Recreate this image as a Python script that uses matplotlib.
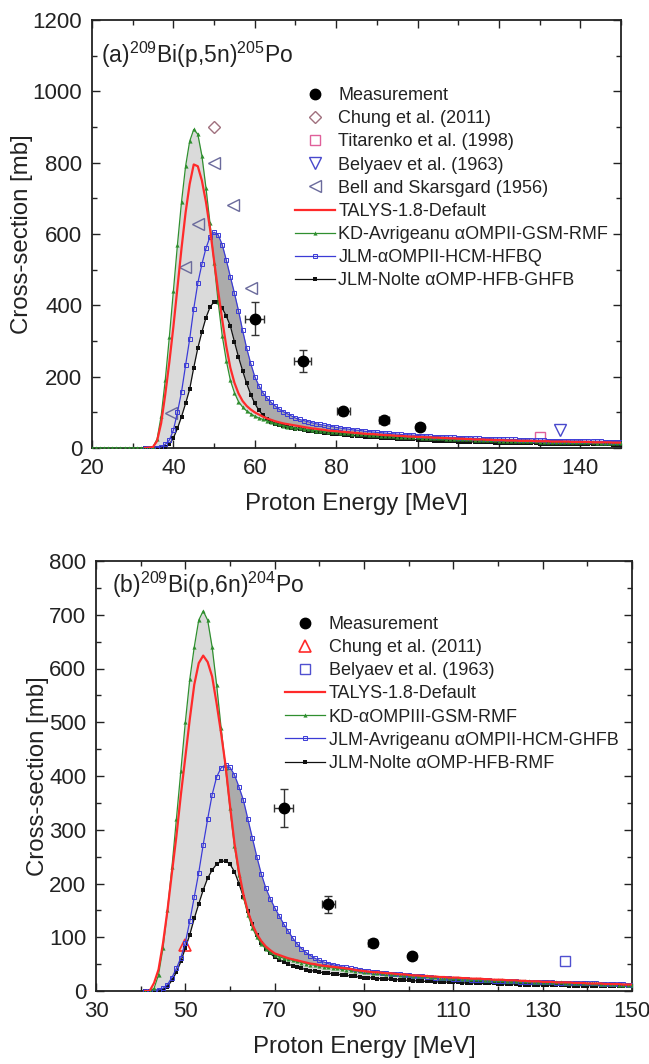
import numpy as np
import matplotlib
matplotlib.use("Agg")
import matplotlib.pyplot as plt
from matplotlib.ticker import MultipleLocator

plt.rcParams['font.family'] = ['Liberation Sans', 'DejaVu Sans']
plt.rcParams['mathtext.default'] = 'regular'

# ---------------- Panel (a): 209Bi(p,5n)205Po ----------------
E_green_a = list(range(20, 151))
E_model_a = list(range(33, 151))

green_a = ([0] * 15 +
           [3, 25, 90, 190, 310, 440, 570, 690, 790, 860, 893, 880, 820, 730, 630, 520,
            410, 315, 245, 190, 155, 130, 115, 104, 96, 89, 84, 80, 76, 72, 69, 66, 63, 60, 58, 56,
            55, 53, 52, 50, 49, 48, 47, 46, 45, 44, 43, 42, 41, 40, 39, 39, 38, 37, 36, 36,
            35, 34, 34, 33, 32, 32, 31, 31, 30, 30, 29, 29, 28, 28, 27, 27, 26, 26, 25, 25,
            25, 24, 24, 23, 23, 23, 22, 22, 22, 21, 21, 21, 20, 20, 20, 19, 19, 19, 19, 18,
            18, 18, 18, 17, 17, 17, 17, 17, 16, 16, 16, 16, 16, 15, 15, 15, 15, 15, 14, 14])

red_a = [0, 1, 3, 20, 70, 150, 240, 340, 450, 560, 660, 740, 795, 790, 750, 690, 615, 525,
         440, 360, 285, 225, 183, 153, 132, 118, 108, 100, 94, 88, 83, 79, 75, 72, 69, 67, 65, 63,
         61, 59, 57, 55, 54, 52, 51, 49, 48, 47, 46, 45, 44, 43, 42, 41, 40, 39, 39, 38,
         37, 36, 36, 35, 34, 34, 33, 32, 32, 31, 31, 30, 30, 29, 29, 28, 28, 27, 27, 26,
         26, 25, 25, 24, 24, 24, 23, 23, 22, 22, 22, 21, 21, 21, 20, 20, 20, 20, 19, 19,
         19, 19, 18, 18, 18, 18, 18, 17, 17, 17, 17, 17, 16, 16, 16, 16, 16, 15, 15, 15]

blue_a = [0, 0, 0, 0, 3, 10, 22, 50, 100, 157, 232, 305, 390, 462, 515, 560, 592, 605,
          598, 570, 527, 480, 434, 385, 330, 280, 237, 200, 175, 155, 140, 128, 118, 109, 102, 96, 90, 84,
          80, 77, 74, 71, 68, 66, 64, 62, 60, 58, 56, 54, 53, 51, 50, 49, 47, 46, 45, 44,
          43, 42, 41, 40, 39, 38, 37, 37, 36, 35, 34, 34, 33, 32, 32, 31, 31, 30, 30, 29,
          29, 28, 28, 27, 27, 26, 26, 26, 25, 25, 25, 24, 24, 24, 23, 23, 23, 22, 22, 22,
          22, 21, 21, 21, 21, 20, 20, 20, 20, 20, 19, 19, 19, 19, 19, 18, 18, 18, 18, 18]

black_a = [0, 0, 0, 0, 0, 2, 10, 28, 55, 88, 125, 165, 225, 280, 325, 365, 395, 410,
           408, 392, 370, 342, 298, 255, 217, 181, 150, 125, 106, 92, 82, 74, 68, 64, 61, 58, 56, 54,
           52, 50, 48, 47, 45, 44, 43, 41, 40, 39, 38, 37, 36, 35, 34, 33, 32, 31, 31, 30,
           29, 28, 28, 27, 26, 26, 25, 24, 24, 23, 23, 22, 22, 21, 21, 20, 20, 19, 19, 18,
           18, 18, 17, 17, 17, 16, 16, 16, 15, 15, 15, 14, 14, 14, 14, 13, 13, 13, 13, 12,
           12, 12, 12, 12, 11, 11, 11, 11, 11, 11, 10, 10, 10, 10, 10, 10, 10, 9, 9, 9]

meas_a_E = [60, 71.8, 81.8, 91.8, 100.5]
meas_a_y = [362, 243, 103, 79, 58]
meas_a_xerr = [2.3, 2.1, 1.6, 1.2, 1.0]
meas_a_yerr = [46, 31, 10, 6, 5]

chung_a_E, chung_a_y = [50], [900]
titarenko_a_E, titarenko_a_y = [130], [32]
belyaev_a_E, belyaev_a_y = [135], [50]
bell_a_E = [39.3, 42.8, 46.0, 50.0, 54.6, 59.1]
bell_a_y = [97, 508, 629, 800, 680, 449]

# ---------------- Panel (b): 209Bi(p,6n)204Po ----------------
E_model_b = list(range(41, 151))

red_b = [0, 0, 15, 40, 89, 150, 220, 288, 365, 435, 506, 570, 610, 624, 612, 585, 535, 480,
         420, 345, 275, 222, 180, 148, 124, 106, 93, 83, 76, 70,
         67, 64, 61, 59, 57, 55, 53, 51, 50, 48, 47, 46, 45, 44, 43, 42, 41, 39, 38, 37,
         36, 35, 35, 34, 33, 33, 32, 31, 31, 30, 29, 29, 28, 28, 27, 27, 26, 26, 25, 25,
         25, 24, 24, 23, 23, 23, 22, 22, 21, 21, 21, 20, 20, 20, 19, 19, 18, 18, 18, 17,
         17, 17, 16, 16, 16, 16, 15, 15, 15, 14, 14, 14, 14, 13, 13, 13, 13, 12, 12, 12]

green_b = [0, 0, 5, 30, 80, 150, 230, 320, 410, 500, 580, 640, 690, 707, 690, 640, 570, 490,
           415, 340, 270, 215, 175, 142, 118, 100, 88, 79, 72, 67,
           64, 61, 59, 57, 55, 53, 51, 49, 48, 46, 45, 44, 43, 42, 41, 40, 39, 38, 37, 36,
           35, 34, 34, 33, 32, 32, 31, 30, 30, 29, 28, 28, 27, 27, 26, 26, 25, 25, 24, 24,
           24, 23, 23, 22, 22, 22, 21, 21, 20, 20, 20, 19, 19, 19, 18, 18, 18, 17, 17, 17,
           16, 16, 16, 16, 15, 15, 15, 15, 14, 14, 14, 14, 13, 13, 13, 13, 12, 12, 12, 12]

blue_b = [0, 0, 0, 2, 5, 12, 25, 42, 62, 90, 130, 175, 220, 272, 320, 365, 398, 415,
          421, 416, 402, 380, 355, 320, 285, 250, 218, 192, 172, 155,
          140, 125, 112, 99, 88, 79, 72, 66, 61, 57, 54, 51, 49, 47, 45, 44, 42, 41, 40, 38,
          37, 36, 35, 34, 33, 32, 31, 31, 30, 29, 28, 28, 27, 26, 26, 25, 25, 24, 24, 23,
          23, 22, 22, 21, 21, 21, 20, 20, 19, 19, 19, 18, 18, 18, 17, 17, 17, 17, 16, 16,
          16, 16, 15, 15, 15, 15, 15, 14, 14, 14, 14, 14, 13, 13, 13, 13, 13, 13, 12, 12]

black_b = [0, 0, 0, 0, 2, 8, 20, 35, 55, 80, 105, 135, 162, 188, 210, 225, 236, 241,
           242, 236, 222, 200, 175, 148, 124, 104, 90, 78, 70, 63,
           58, 54, 50, 47, 45, 42, 40, 38, 37, 35, 34, 33, 32, 31, 30, 29, 28, 27, 26, 25,
           25, 24, 23, 23, 22, 22, 21, 21, 20, 20, 19, 19, 18, 18, 18, 17, 17, 17, 16, 16,
           16, 15, 15, 15, 15, 14, 14, 14, 14, 13, 13, 13, 13, 13, 12, 12, 12, 12, 12, 11,
           11, 11, 11, 11, 11, 10, 10, 10, 10, 10, 10, 10, 10, 9, 9, 9, 9, 9, 9, 9]

meas_b_E = [72.0, 82.0, 92.0, 100.8]
meas_b_y = [341, 161, 90, 66]
meas_b_xerr = [2.1, 1.5, 1.0, 0.8]
meas_b_yerr = [35, 16, 6, 5]

chung_b_E, chung_b_y = [50], [86]
belyaev_b_E, belyaev_b_y = [135], [55]

# ---------------- styling ----------------
C_RED = '#ff2a2a'
C_GREEN = '#2f8f2f'
C_BLUE = '#3b3bd6'
C_BLACK = '#111111'
TXT = '#222222'
FILL_LIGHT = '#dadada'
FILL_DARK = '#ababab'

fig = plt.figure(figsize=(6.49, 10.64), dpi=100)
ax_a = fig.add_axes([92 / 649, 1 - 448 / 1064, (621 - 92) / 649, (448 - 20) / 1064])
ax_b = fig.add_axes([96 / 649, 1 - 991 / 1064, (632 - 96) / 649, (991 - 561) / 1064])


def style_axes(ax, xmaj, xoff, xmin, ymaj, ymin):
    ax.xaxis.set_major_locator(MultipleLocator(xmaj, offset=xoff))
    ax.xaxis.set_minor_locator(MultipleLocator(xmin))
    ax.yaxis.set_major_locator(MultipleLocator(ymaj))
    ax.yaxis.set_minor_locator(MultipleLocator(ymin))
    ax.tick_params(which='both', direction='in', top=True, right=True, colors=TXT,
                   labelsize=16, width=1.0)
    ax.tick_params(which='major', length=6, pad=7)
    ax.tick_params(which='minor', length=3.5)
    for s in ax.spines.values():
        s.set_linewidth(1.3)
        s.set_color(TXT)
    ax.set_ylabel('Cross-section [mb]', fontsize=17.3, color=TXT, labelpad=0)
    ax.set_xlabel('Proton Energy [MeV]', fontsize=17.3, color=TXT, labelpad=10)


def draw_models(ax, E, green, red, blue, black, Eg, green_full, labels):
    g = np.array(green, float)
    b = np.array(blue, float)
    k = np.array(black, float)
    ax.fill_between(E, g, b, color=FILL_LIGHT, lw=0, zorder=1)
    ax.fill_between(E, b, k, color=FILL_LIGHT, lw=0, zorder=1)
    low = np.maximum(g, k)
    ax.fill_between(E, low, b, where=b > low, interpolate=True, color=FILL_DARK,
                    lw=0, zorder=1.5)
    ax.plot(E, black, color=C_BLACK, lw=0.9, marker='s', ms=2.4, mew=0, zorder=3,
            label=labels[3])
    ax.plot(E, blue, color=C_BLUE, lw=0.9, marker='s', ms=3.0, mfc='none', mew=0.7,
            zorder=3, label=labels[2])
    ax.plot(Eg, green_full, color=C_GREEN, lw=0.9, marker='^', ms=3.0, mew=0, zorder=4,
            label=labels[1])
    ax.plot(E, red, color=C_RED, lw=1.6, zorder=5, label=labels[0])


LEG_KW = dict(loc='upper left', frameon=False, fontsize=13, handlelength=2.2,
              handletextpad=0.2, labelspacing=0.34, borderpad=0, borderaxespad=0,
              labelcolor=TXT)

# ---- panel (a)
ax = ax_a
n0 = E_green_a.index(E_model_a[0])
draw_models(ax, E_model_a, green_a[n0:], red_a, blue_a, black_a, E_green_a, green_a,
            ['TALYS-1.8-Default', 'KD-Avrigeanu αOMPII-GSM-RMF',
             'JLM-αOMPII-HCM-HFBQ', 'JLM-Nolte αOMP-HFB-GHFB'])
ax.errorbar(meas_a_E, meas_a_y, xerr=meas_a_xerr, yerr=meas_a_yerr, fmt='none',
            ecolor='#333333', elinewidth=1.0, capsize=3, capthick=1.0, zorder=6)
ax.plot(meas_a_E, meas_a_y, 'o', color='black', ms=7.5, ls='none', zorder=7,
        label='Measurement')
ax.plot(chung_a_E, chung_a_y, 'D', mfc='none', mec='#a0707e', ms=6.5, mew=1.0,
        ls='none', label='Chung et al. (2011)')
ax.plot(titarenko_a_E, titarenko_a_y, 's', mfc='none', mec='#e0609a', ms=7, mew=1.0,
        ls='none', label='Titarenko et al. (1998)')
ax.plot(belyaev_a_E, belyaev_a_y, 'v', mfc='none', mec='#4848cc', ms=8, mew=1.0,
        ls='none', label='Belyaev et al. (1963)')
ax.plot(bell_a_E, bell_a_y, '<', mfc='none', mec='#6a6a9c', ms=8, mew=1.0,
        ls='none', label='Bell and Skarsgard (1956)')
ax.set_xlim(20, 150)
ax.set_ylim(0, 1200)
style_axes(ax, 20, 0, 10, 200, 100)
ax.text(0.017, 0.899, r'(a)$^{209}$Bi(p,5n)$^{205}$Po', transform=ax.transAxes,
        fontsize=16.5, color=TXT, va='baseline', ha='left')
hl = ax.get_legend_handles_labels()
order = ['Measurement', 'Chung et al. (2011)', 'Titarenko et al. (1998)',
         'Belyaev et al. (1963)', 'Bell and Skarsgard (1956)', 'TALYS-1.8-Default',
         'KD-Avrigeanu αOMPII-GSM-RMF', 'JLM-αOMPII-HCM-HFBQ', 'JLM-Nolte αOMP-HFB-GHFB']
d = dict(zip(hl[1], hl[0]))
ax.legend([d[o] for o in order], order, bbox_to_anchor=(0.384, 0.843), **LEG_KW)

# ---- panel (b)
ax = ax_b
draw_models(ax, E_model_b, green_b, red_b, blue_b, black_b, E_model_b, green_b,
            ['TALYS-1.8-Default', 'KD-αOMPIII-GSM-RMF',
             'JLM-Avrigeanu αOMPII-HCM-GHFB', 'JLM-Nolte αOMP-HFB-RMF'])
ax.errorbar(meas_b_E, meas_b_y, xerr=meas_b_xerr, yerr=meas_b_yerr, fmt='none',
            ecolor='#333333', elinewidth=1.0, capsize=3, capthick=1.0, zorder=6)
ax.plot(meas_b_E, meas_b_y, 'o', color='black', ms=7.5, ls='none', zorder=7,
        label='Measurement')
ax.plot(chung_b_E, chung_b_y, '^', mfc='none', mec='#ff2a2a', ms=8, mew=1.2,
        ls='none', label='Chung et al. (2011)')
ax.plot(belyaev_b_E, belyaev_b_y, 's', mfc='none', mec='#5050d0', ms=7, mew=1.0,
        ls='none', label='Belyaev et al. (1963)')
ax.set_xlim(30, 150)
ax.set_ylim(0, 800)
style_axes(ax, 20, 10, 10, 100, 50)
ax.text(0.029, 0.926, r'(b)$^{209}$Bi(p,6n)$^{204}$Po', transform=ax.transAxes,
        fontsize=16.5, color=TXT, va='baseline', ha='left')
hl = ax.get_legend_handles_labels()
order = ['Measurement', 'Chung et al. (2011)', 'Belyaev et al. (1963)',
         'TALYS-1.8-Default', 'KD-αOMPIII-GSM-RMF', 'JLM-Avrigeanu αOMPII-HCM-GHFB',
         'JLM-Nolte αOMP-HFB-RMF']
d = dict(zip(hl[1], hl[0]))
ax.legend([d[o] for o in order], order, bbox_to_anchor=(0.353, 0.872), **LEG_KW)

fig.savefig('out.png', dpi=100)
